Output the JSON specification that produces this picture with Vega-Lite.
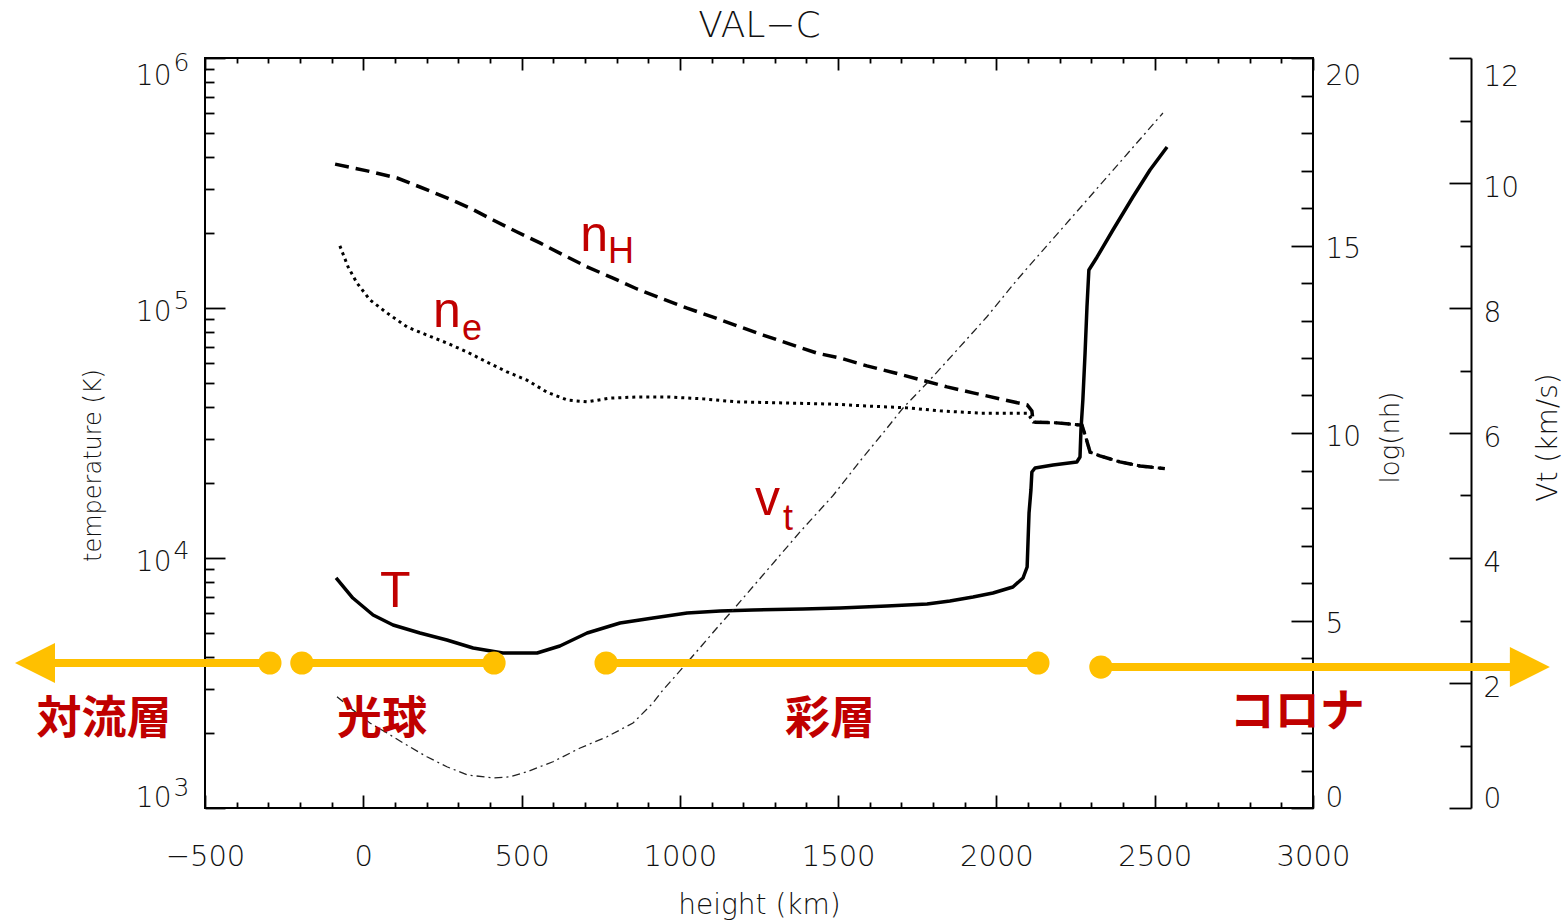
{
  "$schema": "https://vega.github.io/schema/vega-lite/v6.json",
  "width": 1108,
  "height": 750,
  "autosize": {"type": "none"},
  "padding": {"left": 205, "top": 58, "right": 253, "bottom": 115},
  "background": "white",
  "datasets": {
    "temp": [
      {"h": -86, "T": 8318}, {"h": -33, "T": 6918}, {"h": 31, "T": 5916}, {"h": 94, "T": 5395},
      {"h": 179, "T": 5012}, {"h": 264, "T": 4699}, {"h": 347, "T": 4365}, {"h": 441, "T": 4169},
      {"h": 549, "T": 4169}, {"h": 621, "T": 4446}, {"h": 707, "T": 5012}, {"h": 811, "T": 5495},
      {"h": 915, "T": 5754}, {"h": 1023, "T": 6026}, {"h": 1127, "T": 6138}, {"h": 1231, "T": 6194},
      {"h": 1389, "T": 6252}, {"h": 1506, "T": 6310}, {"h": 1654, "T": 6427}, {"h": 1781, "T": 6546},
      {"h": 1853, "T": 6730}, {"h": 1926, "T": 6982}, {"h": 1989, "T": 7244}, {"h": 2052, "T": 7656},
      {"h": 2084, "T": 8318}, {"h": 2097, "T": 9204}, {"h": 2103, "T": 15136}, {"h": 2109, "T": 18707},
      {"h": 2112, "T": 22080}, {"h": 2122, "T": 22909}, {"h": 2179, "T": 23550}, {"h": 2254, "T": 24210},
      {"h": 2264, "T": 25350}, {"h": 2267, "T": 32510}, {"h": 2273, "T": 42850}, {"h": 2280, "T": 66070},
      {"h": 2286, "T": 100900}, {"h": 2292, "T": 141900}, {"h": 2318, "T": 160000}, {"h": 2368, "T": 205100},
      {"h": 2431, "T": 278000}, {"h": 2485, "T": 356500}, {"h": 2539, "T": 440500}
    ],
    "nH": [
      {"h": -89, "n": 17.17}, {"h": 12, "n": 16.99}, {"h": 107, "n": 16.8}, {"h": 179, "n": 16.56},
      {"h": 264, "n": 16.27}, {"h": 337, "n": 16.0}, {"h": 410, "n": 15.68}, {"h": 486, "n": 15.36},
      {"h": 558, "n": 15.07}, {"h": 631, "n": 14.75}, {"h": 707, "n": 14.43}, {"h": 789, "n": 14.13},
      {"h": 865, "n": 13.84}, {"h": 947, "n": 13.57}, {"h": 1023, "n": 13.33}, {"h": 1105, "n": 13.09},
      {"h": 1190, "n": 12.83}, {"h": 1263, "n": 12.61}, {"h": 1348, "n": 12.37}, {"h": 1433, "n": 12.13},
      {"h": 1506, "n": 12.0}, {"h": 1591, "n": 11.79}, {"h": 1680, "n": 11.6}, {"h": 1765, "n": 11.41},
      {"h": 1844, "n": 11.23}, {"h": 1926, "n": 11.07}, {"h": 2011, "n": 10.91}, {"h": 2097, "n": 10.75},
      {"h": 2112, "n": 10.59}, {"h": 2116, "n": 10.29}, {"h": 2191, "n": 10.27}, {"h": 2270, "n": 10.21},
      {"h": 2280, "n": 9.95}, {"h": 2296, "n": 9.49}, {"h": 2327, "n": 9.39}, {"h": 2390, "n": 9.23},
      {"h": 2454, "n": 9.12}, {"h": 2532, "n": 9.05}
    ],
    "ne": [
      {"h": -74, "n": 14.99}, {"h": -48, "n": 14.43}, {"h": -20, "n": 14.0}, {"h": 21, "n": 13.55},
      {"h": 75, "n": 13.2}, {"h": 138, "n": 12.83}, {"h": 201, "n": 12.61}, {"h": 264, "n": 12.4},
      {"h": 328, "n": 12.16}, {"h": 391, "n": 11.89}, {"h": 454, "n": 11.63}, {"h": 517, "n": 11.41},
      {"h": 580, "n": 11.09}, {"h": 644, "n": 10.88}, {"h": 707, "n": 10.83}, {"h": 779, "n": 10.93},
      {"h": 865, "n": 10.96}, {"h": 969, "n": 10.96}, {"h": 1073, "n": 10.91}, {"h": 1181, "n": 10.83},
      {"h": 1338, "n": 10.8}, {"h": 1484, "n": 10.77}, {"h": 1591, "n": 10.72}, {"h": 1718, "n": 10.67},
      {"h": 1822, "n": 10.59}, {"h": 1948, "n": 10.53}, {"h": 2097, "n": 10.53}, {"h": 2106, "n": 10.43},
      {"h": 2116, "n": 10.29}, {"h": 2191, "n": 10.27}, {"h": 2270, "n": 10.21}, {"h": 2280, "n": 9.95},
      {"h": 2296, "n": 9.49}, {"h": 2327, "n": 9.39}, {"h": 2390, "n": 9.23}, {"h": 2454, "n": 9.12},
      {"h": 2532, "n": 9.05}
    ],
    "vt": [
      {"h": -83, "v": 1.78}, {"h": -33, "v": 1.57}, {"h": 21, "v": 1.36}, {"h": 75, "v": 1.2},
      {"h": 126, "v": 1.04}, {"h": 201, "v": 0.82}, {"h": 264, "v": 0.66}, {"h": 328, "v": 0.53},
      {"h": 410, "v": 0.48}, {"h": 464, "v": 0.5}, {"h": 517, "v": 0.58}, {"h": 599, "v": 0.74},
      {"h": 685, "v": 0.96}, {"h": 770, "v": 1.14}, {"h": 852, "v": 1.36}, {"h": 915, "v": 1.68},
      {"h": 947, "v": 1.89}, {"h": 991, "v": 2.14}, {"h": 1032, "v": 2.38}, {"h": 1073, "v": 2.62},
      {"h": 1117, "v": 2.88}, {"h": 1168, "v": 3.17}, {"h": 1285, "v": 3.86}, {"h": 1380, "v": 4.42},
      {"h": 1484, "v": 5.0}, {"h": 1577, "v": 5.6}, {"h": 1642, "v": 6.0}, {"h": 1705, "v": 6.4},
      {"h": 1781, "v": 6.8}, {"h": 1876, "v": 7.33}, {"h": 1970, "v": 7.86}, {"h": 2065, "v": 8.45},
      {"h": 2160, "v": 9.0}, {"h": 2264, "v": 9.6}, {"h": 2526, "v": 11.12}
    ],
    "segs": [
      {"h1": -1037, "h2": -295, "T": 3802},
      {"h1": -194, "h2": 413, "T": 3802},
      {"h1": 767, "h2": 2131, "T": 3802},
      {"h1": 2330, "h2": 3685, "T": 3664}
    ],
    "dots": [
      {"h": -295, "T": 3802}, {"h": -194, "T": 3802}, {"h": 413, "T": 3802},
      {"h": 767, "T": 3802}, {"h": 2131, "T": 3802}, {"h": 2330, "T": 3664}
    ],
    "arrows": [
      {"h": -1037, "T": 3802, "dir": "left"},
      {"h": 3685, "T": 3664, "dir": "right"}
    ],
    "regions": [
      {"label": "対流層", "h": -819, "T": 2249},
      {"label": "光球", "h": 59, "T": 2249},
      {"label": "彩層", "h": 1474, "T": 2249},
      {"label": "コロナ", "h": 2950, "T": 2399}
    ],
    "sym": [
      {"label": "n", "h": 685, "T": 169000},
      {"label": "n", "h": 220, "T": 83950},
      {"label": "v", "h": 1237, "T": 14860},
      {"label": "T", "h": 53, "T": 6368}
    ],
    "subs": [
      {"label": "H", "h": 773, "T": 151400},
      {"label": "e", "h": 312, "T": 74470},
      {"label": "t", "h": 1326, "T": 12940}
    ]
  },
  "resolve": {"scale": {"y": "independent"}, "axis": {"x": "independent", "y": "independent"}},
  "layer": [
    {
      "data": {"name": "temp"},
      "mark": {"type": "line", "color": "#000", "strokeWidth": 3.5, "strokeJoin": "round"},
      "encoding": {
        "x": {"field": "h", "type": "quantitative", "scale": {"domain": [-500, 3000], "nice": false, "zero": false},
          "axis": {"orient": "bottom", "title": "height (km)", "titleFontSize": 28, "titleY": 97, "titleBaseline": "middle",
            "values": [-500,-400,-300,-200,-100,0,100,200,300,400,500,600,700,800,900,1000,1100,1200,1300,1400,1500,1600,1700,1800,1900,2000,2100,2200,2300,2400,2500,2600,2700,2800,2900,3000],
            "format": "d",
            "tickSize": {"condition": {"test": "datum.value % 500 === 0", "value": -13}, "value": -6},
            "labelExpr": "datum.value % 500 === 0 ? datum.label : ''",
            "labelPadding": 47, "labelBaseline": "top", "labelFontSize": 29}},
        "y": {"field": "T", "type": "quantitative", "scale": {"type": "log", "domain": [1000, 1000000], "nice": false},
          "axis": {"orient": "left", "title": "temperature (K)", "titleFontSize": 24, "titleX": -112, "titleY": 407, "titleAngle": 270, "titleAlign": "center", "titleBaseline": "middle",
            "values": [1000,2000,3000,4000,5000,6000,7000,8000,9000,10000,20000,30000,40000,50000,60000,70000,80000,90000,100000,200000,300000,400000,500000,600000,700000,800000,900000,1000000],
            "tickSize": {"condition": {"test": "indexof([1000,10000,100000,1000000], datum.value) >= 0", "value": -20}, "value": -9},
            "labelExpr": "indexof([1000,10000,100000,1000000], datum.value) >= 0 ? '10' : ''",
            "labelPadding": 54, "labelAlign": "right", "labelOffset": 4, "labelFlush": true, "labelFontSize": 28}}
      }
    },
    {
      "data": {"name": "nH"},
      "mark": {"type": "line", "color": "#000", "strokeWidth": 3.5, "strokeDash": [14, 7]},
      "encoding": {
        "x": {"field": "h", "type": "quantitative", "scale": {"domain": [-500, 3000], "nice": false, "zero": false},
          "axis": {"orient": "top", "title": "VAL−C", "titleFontSize": 36, "titleY": -22, "titleBaseline": "alphabetic", "labels": false,
            "values": [-500,-400,-300,-200,-100,0,100,200,300,400,500,600,700,800,900,1000,1100,1200,1300,1400,1500,1600,1700,1800,1900,2000,2100,2200,2300,2400,2500,2600,2700,2800,2900,3000],
            "tickSize": {"condition": {"test": "datum.value % 500 === 0", "value": -12}, "value": -5}}},
        "y": {"field": "n", "type": "quantitative", "scale": {"domain": [0, 20], "nice": false, "zero": false},
          "axis": {"orient": "right", "title": "log(nh)", "titleFontSize": 26, "titleX": 77, "titleY": 379, "titleAngle": 270, "titleAlign": "center", "titleBaseline": "middle",
            "values": [0,1,2,3,4,5,6,7,8,9,10,11,12,13,14,15,16,17,18,19,20],
            "format": "d",
            "tickSize": {"condition": {"test": "datum.value % 5 === 0", "value": -22}, "value": -12},
            "labelExpr": "datum.value % 5 === 0 ? datum.label : ''",
            "labelPadding": 34, "labelAlign": "left", "labelOffset": 4, "labelFlush": true, "labelFontSize": 28}}
      }
    },
    {
      "data": {"name": "ne"},
      "mark": {"type": "line", "color": "#000", "strokeWidth": 3, "strokeDash": [3, 4]},
      "encoding": {
        "x": {"field": "h", "type": "quantitative", "scale": {"domain": [-500, 3000], "nice": false, "zero": false}, "axis": null},
        "y": {"field": "n", "type": "quantitative", "scale": {"domain": [0, 20], "nice": false, "zero": false}, "axis": null}
      }
    },
    {
      "data": {"name": "vt"},
      "mark": {"type": "line", "color": "#222", "strokeWidth": 1.3, "strokeDash": [8, 4, 2, 4]},
      "encoding": {
        "x": {"field": "h", "type": "quantitative", "scale": {"domain": [-500, 3000], "nice": false, "zero": false}, "axis": null},
        "y": {"field": "v", "type": "quantitative", "scale": {"domain": [0, 12], "nice": false, "zero": false},
          "axis": {"orient": "right", "offset": 158, "domain": true, "domainColor": "#000", "domainWidth": 2,
            "title": "Vt (km/s)", "titleFontSize": 28, "titleX": 77, "titleY": 379, "titleAngle": 270, "titleAlign": "center", "titleBaseline": "middle",
            "values": [0,0.5,1,1.5,2,2.5,3,3.5,4,4.5,5,5.5,6,6.5,7,7.5,8,8.5,9,9.5,10,10.5,11,11.5,12],
            "format": "d",
            "tickSize": {"condition": {"test": "datum.value % 2 === 0", "value": -22}, "value": -11},
            "labelExpr": "datum.value % 2 === 0 ? datum.label : ''",
            "labelPadding": 34, "labelAlign": "left", "labelOffset": 5, "labelFlush": true, "labelFontSize": 28}}
      }
    },
    {
      "data": {"name": "segs"},
      "mark": {"type": "rule", "color": "#FFC000", "strokeWidth": 8, "strokeCap": "butt"},
      "encoding": {
        "x": {"field": "h1", "type": "quantitative", "scale": {"domain": [-500, 3000], "nice": false, "zero": false}, "axis": null},
        "x2": {"field": "h2"},
        "y": {"field": "T", "type": "quantitative", "scale": {"type": "log", "domain": [1000, 1000000], "nice": false},
          "axis": {"orient": "left", "title": null, "ticks": false, "domain": false,
            "values": [1000, 10000, 100000, 1000000],
            "labelExpr": "datum.value == 1000 ? '3' : datum.value == 10000 ? '4' : datum.value == 100000 ? '5' : '6'",
            "labelPadding": 32, "labelAlign": "left", "labelOffset": -8, "labelFlush": true, "labelFontSize": 25}}
      }
    },
    {
      "data": {"name": "dots"},
      "mark": {"type": "point", "shape": "circle", "filled": true, "color": "#FFC000", "opacity": 1, "size": 540},
      "encoding": {
        "x": {"field": "h", "type": "quantitative", "scale": {"domain": [-500, 3000], "nice": false, "zero": false}, "axis": null},
        "y": {"field": "T", "type": "quantitative", "scale": {"type": "log", "domain": [1000, 1000000], "nice": false}, "axis": null}
      }
    },
    {
      "data": {"name": "arrows"},
      "mark": {"type": "point", "filled": true, "color": "#FFC000", "opacity": 1, "size": 1600},
      "encoding": {
        "x": {"field": "h", "type": "quantitative", "scale": {"domain": [-500, 3000], "nice": false, "zero": false}, "axis": null},
        "y": {"field": "T", "type": "quantitative", "scale": {"type": "log", "domain": [1000, 1000000], "nice": false}, "axis": null},
        "shape": {"field": "dir", "type": "nominal", "scale": {"domain": ["left", "right"], "range": ["M1,-1L-1,0L1,1Z", "M-1,-1L1,0L-1,1Z"]}, "legend": null}
      }
    },
    {
      "data": {"name": "regions"},
      "mark": {"type": "text", "font": "Noto Sans CJK JP", "fontWeight": "bold", "fontSize": 45, "color": "#C00000", "align": "center", "baseline": "middle"},
      "encoding": {
        "x": {"field": "h", "type": "quantitative", "scale": {"domain": [-500, 3000], "nice": false, "zero": false}, "axis": null},
        "y": {"field": "T", "type": "quantitative", "scale": {"type": "log", "domain": [1000, 1000000], "nice": false}, "axis": null},
        "text": {"field": "label"}
      }
    },
    {
      "data": {"name": "sym"},
      "mark": {"type": "text", "font": "Liberation Sans", "fontSize": 50, "color": "#C00000", "align": "left", "baseline": "alphabetic"},
      "encoding": {
        "x": {"field": "h", "type": "quantitative", "scale": {"domain": [-500, 3000], "nice": false, "zero": false}, "axis": null},
        "y": {"field": "T", "type": "quantitative", "scale": {"type": "log", "domain": [1000, 1000000], "nice": false}, "axis": null},
        "text": {"field": "label"}
      }
    },
    {
      "data": {"name": "subs"},
      "mark": {"type": "text", "font": "Liberation Sans", "fontSize": 36, "color": "#C00000", "align": "left", "baseline": "alphabetic"},
      "encoding": {
        "x": {"field": "h", "type": "quantitative", "scale": {"domain": [-500, 3000], "nice": false, "zero": false}, "axis": null},
        "y": {"field": "T", "type": "quantitative", "scale": {"type": "log", "domain": [1000, 1000000], "nice": false}, "axis": null},
        "text": {"field": "label"}
      }
    }
  ],
  "config": {
    "view": {"stroke": "#000", "strokeWidth": 2},
    "axis": {"domain": false, "grid": false, "tickColor": "#000", "tickWidth": 1.8, "labelColor": "#111", "labelFont": "DejaVu Sans", "labelFontWeight": 200, "titleFont": "DejaVu Sans", "titleFontWeight": 200, "titleColor": "#111", "labelOverlap": false, "labelBound": false, "labelFlush": false, "titlePadding": 0}
  }
}
